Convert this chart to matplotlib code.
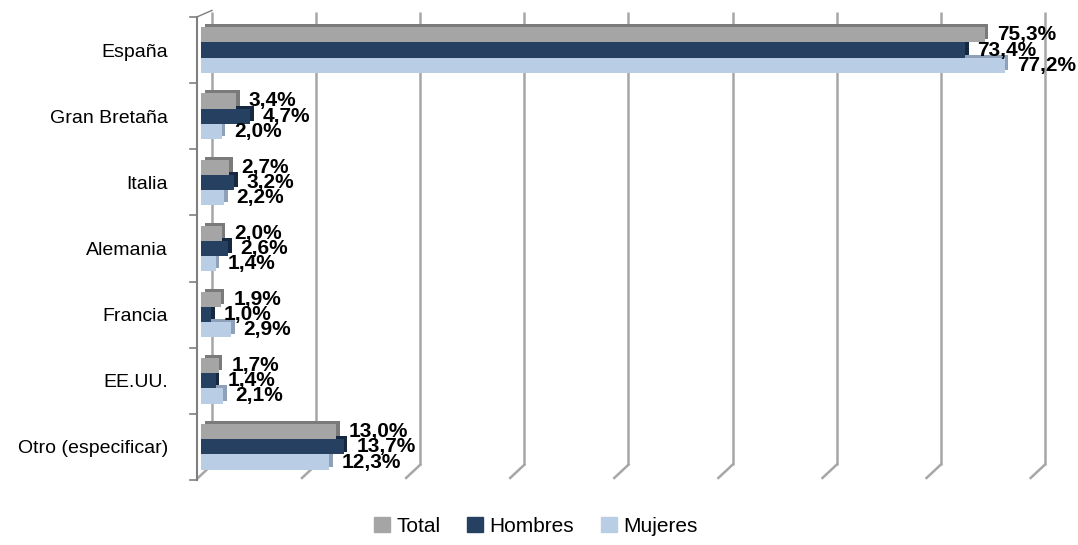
import matplotlib.pyplot as plt
from matplotlib.patches import Patch

# data (percent)
paises = ['España', 'Gran Bretaña', 'Italia', 'Alemania', 'Francia', 'EE.UU.', 'Otro (especificar)']
total = [75.3, 3.4, 2.7, 2.0, 1.9, 1.7, 13.0]
hombres = [73.4, 4.7, 3.2, 2.6, 1.0, 1.4, 13.7]
mujeres = [77.2, 2.0, 2.2, 1.4, 2.9, 2.1, 12.3]
series_names = ['Total', 'Hombres', 'Mujeres']
grid_values = [0, 10, 20, 30, 40, 50, 60, 70, 80]

colors = ['#a5a5a5', '#254061', '#b9cde5']
shadows = ['#7a7a7a', '#16283f', '#8ea1b8']

plt.rcParams['font.family'] = ['Liberation Sans', 'DejaVu Sans']

fig = plt.figure(figsize=(10.78, 5.45), dpi=100)
ax = fig.add_axes([180 / 1078, 55 / 545, 890 / 1078, 485 / 545])
ax.set_xlim(-2.02, 83.48)
ax.set_ylim(6.652, -0.681)
for s in ax.spines.values():
    s.set_visible(False)
ax.set_xticks([])

# fake 3d walls: gridlines on back wall with small feet toward front
dx = 1.06
for v in grid_values:
    ax.plot([v + dx, v + dx], [-0.58, 6.27], color='#a6a6a6', lw=1.8, zorder=1,
            solid_capstyle='butt')
    ax.plot([v + dx, v - 0.3], [6.27, 6.47], color='#a6a6a6', lw=1.8, zorder=1)

# left axis with ticks at category boundaries
ax.plot([-0.4, -0.4], [-0.5, 6.5], color='#7f7f7f', lw=1.5, zorder=2)
ax.plot([-0.4, dx], [-0.5, -0.6], color='#7f7f7f', lw=1.0, zorder=2)
for k in range(len(paises) + 1):
    ax.plot([-1.1, -0.4], [k - 0.5, k - 0.5], color='#7f7f7f', lw=1.2, zorder=2)

h = 0.23
offsets = [-h, 0, h]
ypos = list(range(len(paises)))
for vals, off, c, sc in zip([total, hombres, mujeres], offsets, colors, shadows):
    y = [i + off for i in ypos]
    # shadow gives top/right face
    ax.barh([yy - 0.045 for yy in y], vals, height=h, left=0.35, color=sc, zorder=3)
    ax.barh(y, vals, height=h, color=c, zorder=4)
    for yy, v in zip(y, vals):
        ax.text(v + 1.2, yy, f'{v:.1f}%'.replace('.', ','), ha='left', va='center',
                fontsize=15, fontweight='bold', color='black', zorder=6)

ax.set_yticks(ypos, paises)
ax.tick_params(axis='y', length=0, pad=8.6, labelsize=14)

handles = [Patch(color=c) for c in colors]
fig.legend(handles, series_names, loc='lower center', bbox_to_anchor=(0.497, -0.018),
           ncol=3, frameon=False, fontsize=15, handlelength=0.75, handleheight=0.75,
           handletextpad=0.3, columnspacing=1.3)

fig.savefig('out.png', dpi=100)
